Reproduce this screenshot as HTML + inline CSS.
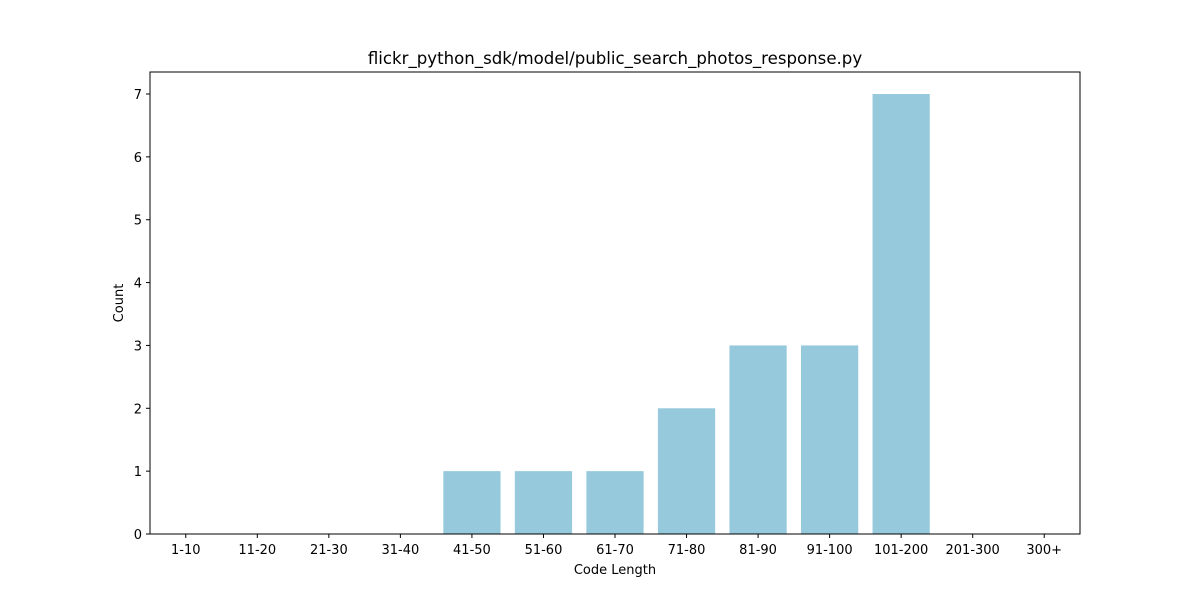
<!DOCTYPE html>
<html><head><meta charset="utf-8"><style>
body{margin:0;background:#fff;}
svg{display:block;font-family:"DejaVu Sans","Liberation Sans",sans-serif;}
</style></head><body>
<svg id="chart" width="1200" height="600">
<text x="615" y="64" font-size="16.6" text-anchor="middle">flickr_python_sdk/model/public_search_photos_response.py</text>
<g id="bars"></g><g id="axes"></g>
<rect x="150" y="72" width="930" height="462" fill="none" stroke="#000" stroke-width="1"/>
<text x="615" y="574" font-size="13" text-anchor="middle">Code Length</text>
<text x="123" y="303" font-size="13" text-anchor="middle" transform="rotate(-90 123 303)">Count</text>
</svg>
<script>
const categories=["1-10","11-20","21-30","31-40","41-50","51-60","61-70","71-80","81-90","91-100","101-200","201-300","300+"];
const counts=[0,0,0,0,1,1,1,2,3,3,7,0,0];
const yTicks=[0,1,2,3,4,5,6,7];
const L=150,R=1080,T=72,B=534,yMax=7.35;
const ns="http://www.w3.org/2000/svg";
const xs=i=>L+(i+0.5)*(R-L)/categories.length;
const ys=v=>B-v*(B-T)/yMax;
const bw=0.8*(R-L)/categories.length;
const bars=document.getElementById('bars'),axes=document.getElementById('axes');
function mk(t,a,p){const e=document.createElementNS(ns,t);for(const k in a)e.setAttribute(k,a[k]);p.appendChild(e);return e;}
categories.forEach((c,i)=>{
  const r=mk('rect',{x:xs(i)-bw/2,y:ys(counts[i]),width:bw,height:B-ys(counts[i]),fill:'#96c9dc'},bars);
  
  
  const tk=mk('line',{x1:xs(i),x2:xs(i),y1:B,y2:B+4,stroke:'#000'},axes);
  
  
  const t=mk('text',{x:xs(i),y:B+20,'font-size':13,'text-anchor':'middle'},axes);
  t.textContent=c;
  
  
});
yTicks.forEach(v=>{
  const tk=mk('line',{x1:L-4,x2:L,y1:ys(v),y2:ys(v),stroke:'#000'},axes);
  
  
  const t=mk('text',{x:L-8,y:ys(v)+5,'font-size':13,'text-anchor':'end'},axes);
  t.textContent=v;
  
  
});
</script>
</body></html>
